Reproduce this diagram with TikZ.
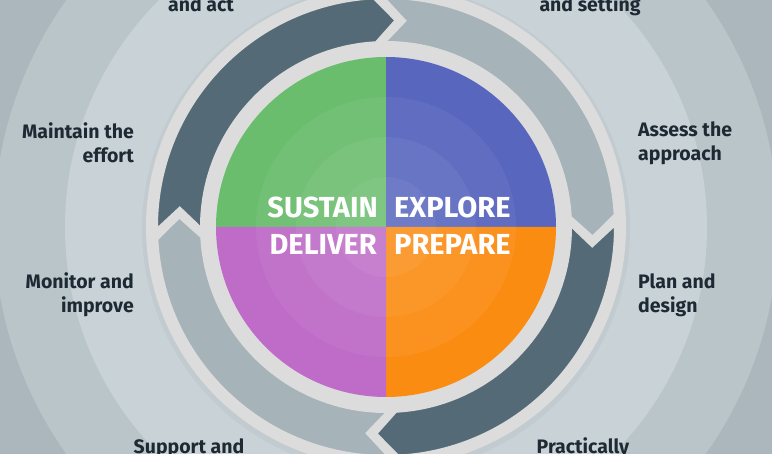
\documentclass[tikz,border=0pt]{standalone}
\usepackage{fontspec}
\setmainfont{Fira Sans}
\definecolor{bgA}{HTML}{C9D2D7}
\definecolor{bgB}{HTML}{BAC5CA}
\definecolor{bgC}{HTML}{ABB7BD}
\definecolor{rim}{HTML}{DCDCDC}
\definecolor{darkarr}{HTML}{546B77}
\definecolor{lightarr}{HTML}{A6B3B8}
\definecolor{qgreen}{HTML}{6BBD6E}
\definecolor{qblue}{HTML}{5866BE}
\definecolor{qpurple}{HTML}{BE6CC8}
\definecolor{qorange}{HTML}{FB8C12}
\definecolor{txt}{HTML}{1E2A33}
\newcommand{\cyclearrow}[2]{%
  \fill[#2,draw=rim,line width=4pt,line join=miter]
    (#1:230pt) arc[start angle=#1,end angle=#1-88,radius=230pt]
    -- (#1-94:207pt) -- (#1-88:184pt)
    arc[start angle=#1-88,end angle=#1,radius=184pt]
    -- (#1-6:207pt) -- cycle;}
\begin{document}
\begin{tikzpicture}[x=1pt,y=1pt,
  stepname/.style={font=\fontsize{29}{32}\selectfont\bfseries,text=white,inner sep=0pt},
  task/.style={font=\fontsize{19.5}{24}\selectfont\bfseries,text=txt,inner sep=0pt,align=#1},
  task/.default=left]
\useasboundingbox (0,0) rectangle (772,-454);
\clip (0,0) rectangle (772,-454);
\fill[bgC] (0,0) rectangle (772,-454);
\coordinate (c) at (386,-227);
\fill[bgB] (c) circle[radius=392pt];
\fill[bgA] (c) circle[radius=321pt];
% shadow and rim
\fill[black,opacity=0.03] ([yshift=-2pt]c) circle[radius=244pt];
\fill[rim] (c) circle[radius=240pt];
\begin{scope}[shift={(c)}]
\cyclearrow{181}{darkarr}
\cyclearrow{91}{lightarr}
\cyclearrow{1}{darkarr}
\cyclearrow{-89}{lightarr}
\fill[qgreen] (0,0) -- (180:170pt) arc[start angle=180,end angle=90,radius=170pt] -- cycle;
\fill[qblue] (0,0) -- (90:170pt) arc[start angle=90,end angle=0,radius=170pt] -- cycle;
\fill[qorange] (0,0) -- (0:170pt) arc[start angle=0,end angle=-90,radius=170pt] -- cycle;
\fill[qpurple] (0,0) -- (-90:170pt) arc[start angle=-90,end angle=-180,radius=170pt] -- cycle;
\foreach \r in {130,90,50}
  \fill[white,opacity=0.05] (0,0) circle[radius=\r pt];
\end{scope}
% phase names
\node[stepname,anchor=base east] (sustain) at (378,-218) {SUSTAIN};
\node[stepname,anchor=base west] (explore) at (394,-218) {EXPLORE};
\node[stepname,anchor=base east] (deliver) at (377,-255) {DELIVER};
\node[stepname,anchor=base west] (prepare) at (394,-255) {PREPARE};
% tasks
\node[task=center,anchor=base] (act) at (201,-12) {and act};
\node[task=center,anchor=base] (setting) at (590,-12) {and setting};
\node[task=right,anchor=east] (maintain) at (134,-143) {Maintain the\\effort};
\node[task=right,anchor=east] (monitor) at (134,-295) {Monitor and\\improve};
\node[task,anchor=west] (assess) at (638,-143) {Assess the\\approach};
\node[task,anchor=west] (plan) at (638,-295) {Plan and\\design};
\node[task=center,anchor=base] (support) at (189,-454) {Support and};
\node[task=center,anchor=base] (practically) at (583,-454) {Practically};
\end{tikzpicture}
\end{document}
